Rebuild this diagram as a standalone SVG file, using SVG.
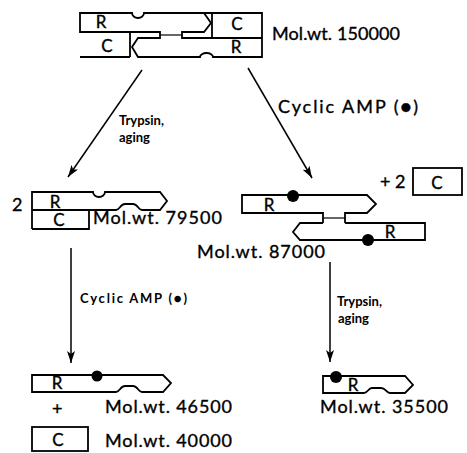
<svg xmlns="http://www.w3.org/2000/svg" width="467" height="453" viewBox="0 0 467 453">
<defs>
<style>
.s{fill:none;stroke:#000;stroke-width:1.8;stroke-linejoin:miter}
.lk{fill:none;stroke:#000;stroke-width:1.2}
.ln{fill:none;stroke:#000;stroke-width:1.5}
.dot{fill:#000}
.t{font-family:Lato,"Open Sans","DejaVu Sans",sans-serif;font-size:18px;fill:#000;stroke:#000;stroke-width:0.35}
.b{font-family:Lato,"Open Sans","DejaVu Sans",sans-serif;font-size:17px;fill:#000;stroke:#000;stroke-width:0.35;text-anchor:middle}
.sm{font-family:Lato,"Open Sans","DejaVu Sans",sans-serif;font-size:13px;font-weight:bold;fill:#000}
</style>
<marker id="ah" viewBox="0 0 12 8" refX="12" refY="4" markerWidth="12" markerHeight="8" markerUnits="userSpaceOnUse" orient="auto">
<path d="M0,0 L12,4 L0,8 L3,4 z" fill="#000"/>
</marker>
</defs>
<rect width="467" height="453" fill="#fff"/>

<g id="holoenzyme">
<path class="s" d="M80,13 H132 A6,5 0 0 0 144,13 H262 V57 H213 A6.5,4 0 0 0 200,57 H138 L132,47 L138,38 H160 V32 H80 Z"/>
<path class="s" d="M204,13 L211,23 L204,32 H182 V38 H262"/>
<path class="s" d="M212,13 V38"/>
<path class="s" d="M130,32 V57 M80,57 H130"/>
<path class="lk" d="M160,35 H182"/>
<text class="b" x="101" y="28">R</text>
<text class="b" x="107" y="52">C</text>
<text class="b" x="237" y="30">C</text>
<text class="b" x="236" y="53">R</text>
<text class="t" x="272" y="40" textLength="128" lengthAdjust="spacing">Mol.wt. 150000</text>
</g>

<g id="fragment79500">
<text class="t" x="12" y="211">2</text>
<path class="s" d="M32,229 V192 H93 A6,5 0 0 0 105,192 H160 L167,201 L160,210 H142 C138,210 138,204 133,204 H125 C120,204 120,210 116,210 H32"/>
<path class="s" d="M32,229 H89 V210"/>
<text class="b" x="55" y="208">R</text>
<text class="b" x="59" y="226">C</text>
<text class="t" x="93" y="224" textLength="129" lengthAdjust="spacing">Mol.wt. 79500</text>
</g>

<g id="dimer87000">
<path class="s" d="M345,223 V213 H367 L376,204 L367,195 H242 V213 H323 V223"/>
<path class="s" d="M323,223 H300 L293,232 L300,240 H425 V223 H345"/>
<path class="lk" d="M323,218 H345"/>
<circle class="dot" cx="293" cy="196" r="6"/>
<circle class="dot" cx="368" cy="240" r="6"/>
<text class="b" x="269" y="211">R</text>
<text class="b" x="390" y="238">R</text>
<text class="t" x="197" y="258" textLength="128" lengthAdjust="spacing">Mol.wt. 87000</text>
</g>

<g id="catalytic">
<text class="t" x="380" y="188">+ 2</text>
<rect class="s" x="413" y="168" width="49" height="27"/>
<text class="b" x="437" y="189">C</text>
</g>

<g id="fragment46500">
<path class="s" d="M32,375 H163 L171,383 L163,392 H142 C138,392 138,386 133,386 H125 C120,386 120,392 116,392 H32 Z"/>
<circle class="dot" cx="97" cy="376" r="5.5"/>
<text class="b" x="57" y="389">R</text>
<text class="t" x="52" y="415">+</text>
<text class="t" x="105" y="413" textLength="127" lengthAdjust="spacing">Mol.wt. 46500</text>
</g>

<g id="catalytic40000">
<rect class="s" x="32" y="427" width="56" height="24"/>
<text class="b" x="58" y="446">C</text>
<text class="t" x="105" y="447" textLength="127" lengthAdjust="spacing">Mol.wt. 40000</text>
</g>

<g id="fragment35500">
<path class="s" d="M323,376 H405 L413,385 L405,393 H390 C386,393 386,388 381,388 H372 C368,388 368,393 364,393 H323 Z"/>
<circle class="dot" cx="336" cy="377" r="6"/>
<text class="b" x="353" y="391">R</text>
<text class="t" x="320" y="413" textLength="128" lengthAdjust="spacing">Mol.wt. 35500</text>
</g>

<g id="connectors">
<line class="ln" x1="142" y1="70" x2="68" y2="177" marker-end="url(#ah)"/>
<line class="ln" x1="248" y1="68" x2="312" y2="178" marker-end="url(#ah)"/>
<line class="ln" x1="71" y1="248" x2="71" y2="363" marker-end="url(#ah)"/>
<line class="ln" x1="330" y1="262" x2="330" y2="362" marker-end="url(#ah)"/>
<text class="sm" x="119" y="125">Trypsin,</text>
<text class="sm" x="119" y="142">aging</text>
<text class="t" x="278" y="113" font-size="17" textLength="140" lengthAdjust="spacing">Cyclic AMP (●)</text>
<text class="sm" x="80" y="303" textLength="107" lengthAdjust="spacing">Cyclic AMP (●)</text>
<text class="sm" x="337" y="306">Trypsin,</text>
<text class="sm" x="338" y="323">aging</text>
</g>
</svg>
